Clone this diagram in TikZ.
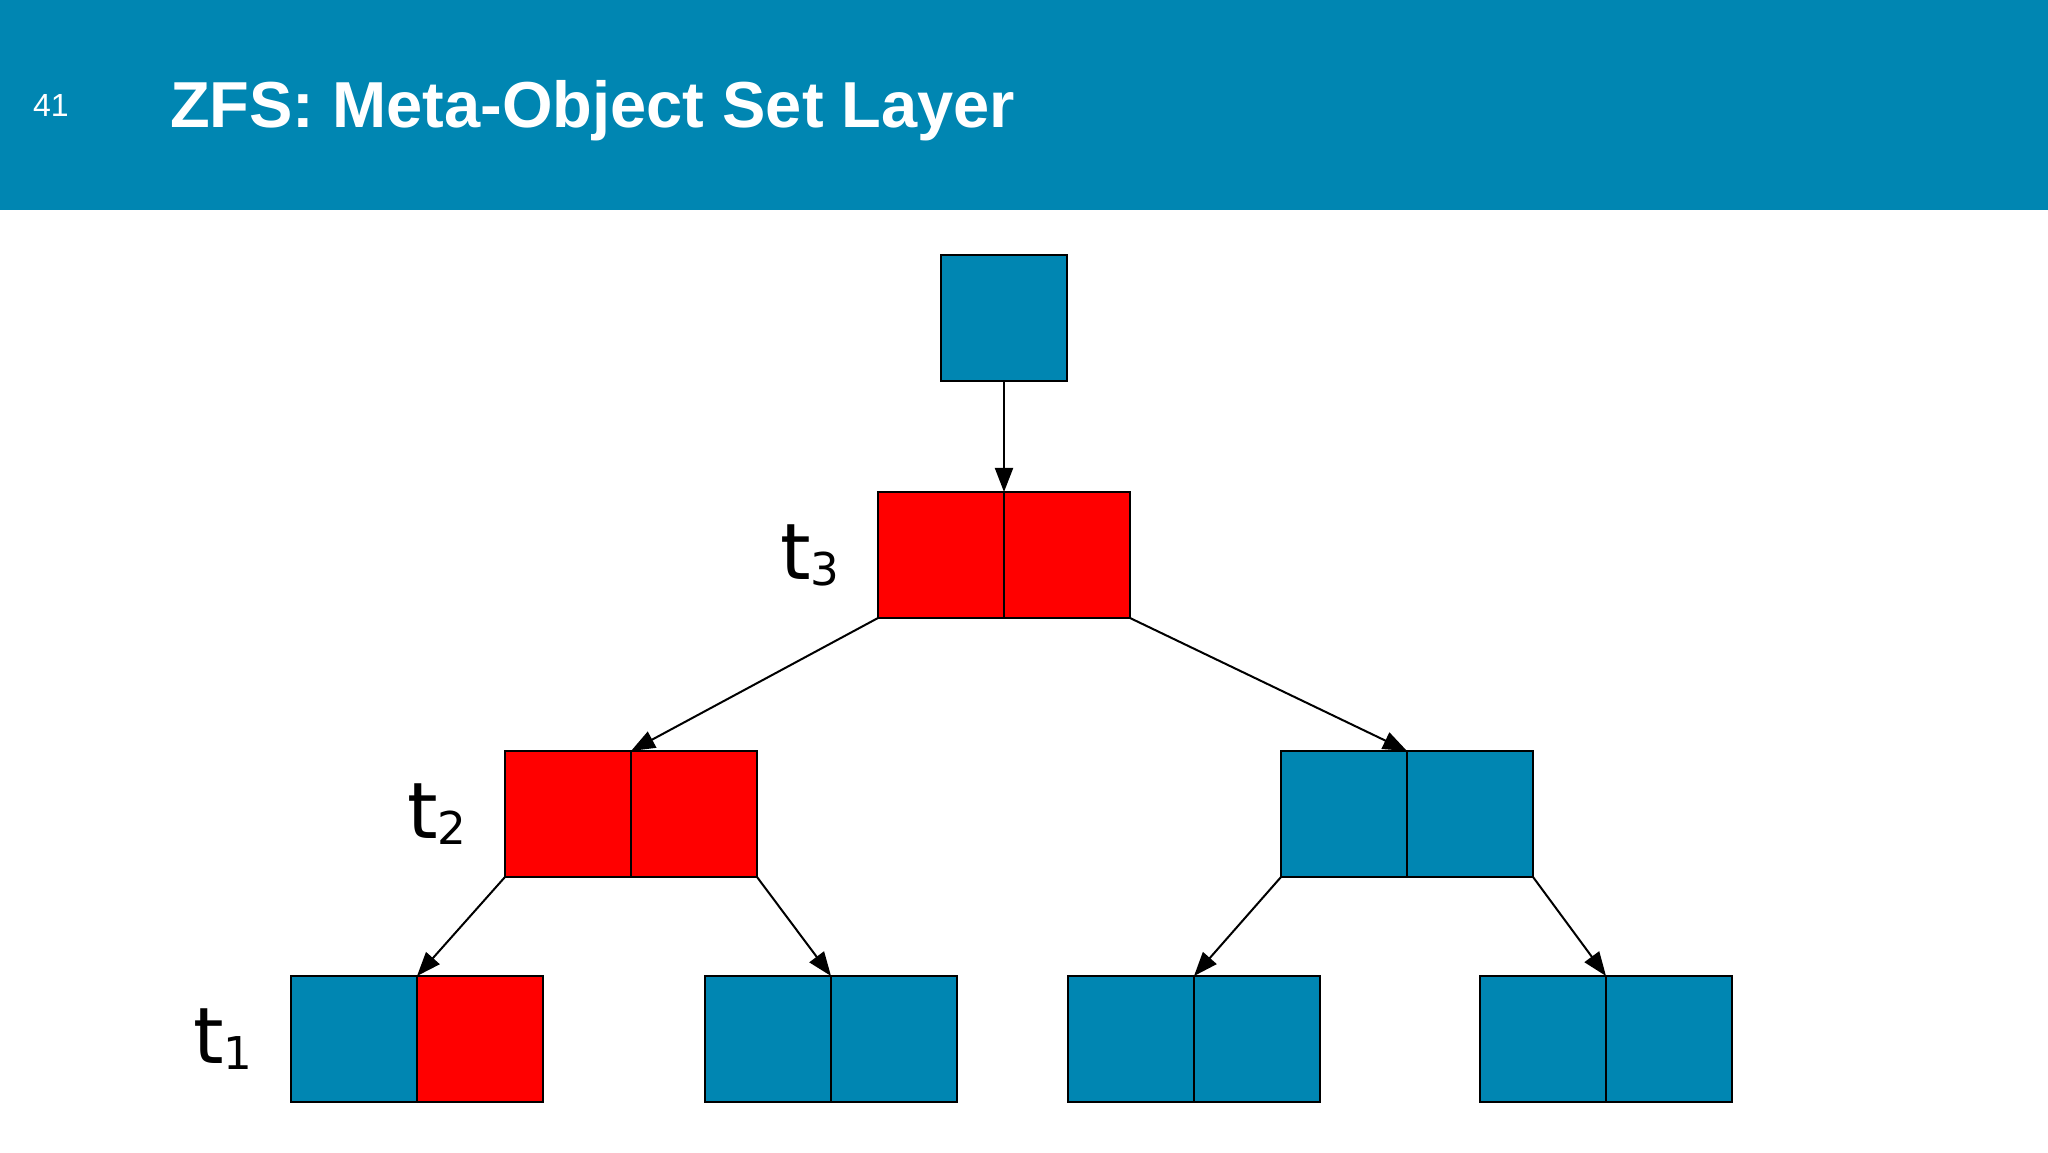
\documentclass[tikz,border=0pt]{standalone}
\usepackage{fontspec}
\setmainfont{Liberation Sans}
\newfontfamily\labelfont{DejaVu Sans}
\usetikzlibrary{positioning,arrows.meta}

\definecolor{zblue}{RGB}{0,134,178}
\definecolor{zred}{RGB}{255,0,0}

\tikzset{
  cell/.style={draw=black, line width=1.1pt, minimum size=63pt, inner sep=0pt, outer sep=0pt},
  ptr/.style={-{Triangle[length=12pt,width=9pt]}, line width=1pt},
  tlabel/.style={font=\labelfont\fontsize{39}{39}\selectfont, inner sep=0pt}
}
\newcommand{\tsub}[1]{t\raisebox{-3pt}{\fontsize{22.6}{22.6}\selectfont #1}}

\begin{document}
\begin{tikzpicture}[x=0.5pt,y=0.5pt]
        \useasboundingbox (0,0) rectangle (2048,1152);

        % Header
        \fill[zblue] (0,942) rectangle (2048,1152);
        \node[anchor=base west, text=white, font=\fontsize{16}{16}\selectfont] (num) at (26,1035) {41};
        \node[anchor=base west, text=white, font=\bfseries\fontsize{32.5}{32.5}\selectfont] (title) at (163,1024) {ZFS: Meta-Object Set Layer};

        % Root
        \node[cell, fill=zblue] (root) at (1004,834) {};

        % Level t3
        \node[cell, fill=zred] (t3a) at (941,597) {};
        \node[cell, fill=zred, right=0pt of t3a] (t3b) {};
        \node[tlabel, left=19pt of t3a] (lab3) {\tsub{3}};

        % Level t2
        \node[cell, fill=zred] (t2a) at (568,338) {};
        \node[cell, fill=zred, right=0pt of t2a] (t2b) {};
        \node[tlabel, left=19pt of t2a] (lab2) {\tsub{2}};
        \node[cell, fill=zblue] (r2a) at (1344,338) {};
        \node[cell, fill=zblue, right=0pt of r2a] (r2b) {};

        % Level t1
        \node[cell, fill=zblue] (l1a) at (354,113) {};
        \node[cell, fill=zred, right=0pt of l1a] (l1b) {};
        \node[tlabel, left=19pt of l1a] (lab1) {\tsub{1}};
        \node[cell, fill=zblue] (l2a) at (768,113) {};
        \node[cell, fill=zblue, right=0pt of l2a] (l2b) {};
        \node[cell, fill=zblue] (l3a) at (1131,113) {};
        \node[cell, fill=zblue, right=0pt of l3a] (l3b) {};
        \node[cell, fill=zblue] (l4a) at (1543,113) {};
        \node[cell, fill=zblue, right=0pt of l4a] (l4b) {};

        % Pointers
        \draw[ptr] (root.south) -- (t3a.north east);
        \draw[ptr] (t3a.south west) -- (t2a.north east);
        \draw[ptr] (t3b.south east) -- (r2a.north east);
        \draw[ptr] (t2a.south west) -- (l1a.north east);
        \draw[ptr] (t2b.south east) -- (l2a.north east);
        \draw[ptr] (r2a.south west) -- (l3a.north east);
        \draw[ptr] (r2b.south east) -- (l4a.north east);
    \end{tikzpicture}
\end{document}
